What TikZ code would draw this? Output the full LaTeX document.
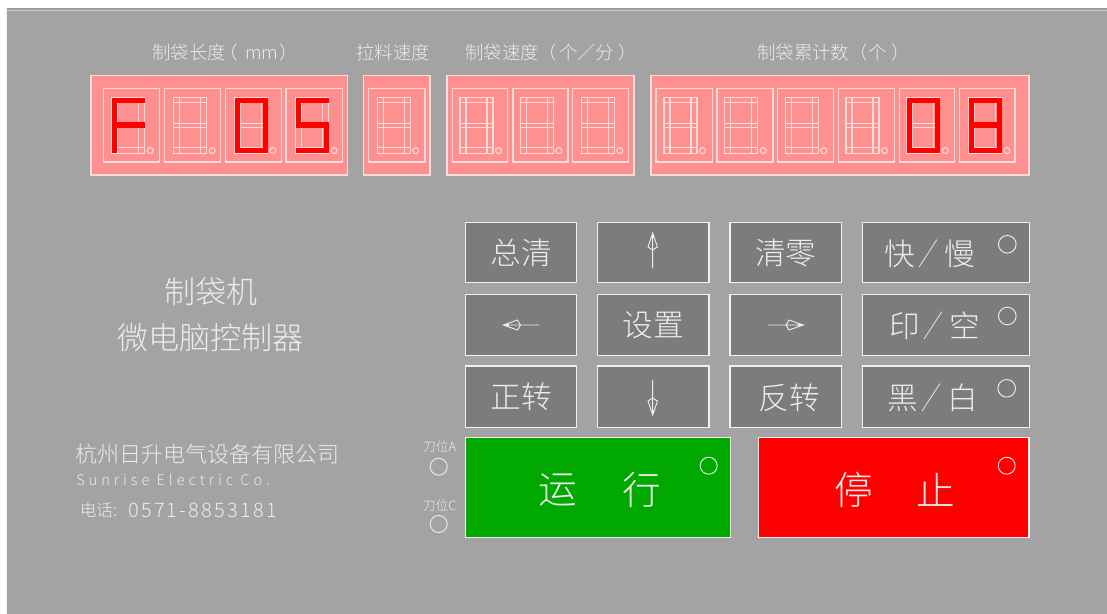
\documentclass[tikz,border=0pt]{standalone}
\usepackage{fontspec}
\setmainfont{Liberation Sans}
\newfontfamily\cjk{Noto Sans CJK SC Light}
\definecolor{panel}{HTML}{A3A3A3}
\definecolor{dispfill}{HTML}{FF9090}
\definecolor{displine}{HTML}{FFDADA}
\definecolor{btnfill}{HTML}{7C7C7C}
\definecolor{btnline}{HTML}{F0F0F0}
\definecolor{ink}{HTML}{ECECEC}
\definecolor{rungreen}{HTML}{00A800}
\definecolor{stopred}{HTML}{FF0000}
\newcommand{\tallslash}{\hspace{1.9pt}\scalebox{0.65}[1]{／}\hspace{4.9pt}}
\tikzset{
  dispbox/.style={draw=displine,fill=dispfill,line width=1pt},
  digline/.style={draw=displine,line width=0.8pt},
  segbar/.style={draw=stopred,line width=3.9pt},
  btnbox/.style={draw=btnline,fill=btnfill,line width=1.1pt},
  lamp/.style={draw=ink,line width=0.7pt},
  txt/.style={inner sep=0pt,text=ink,font=\cjk},
  btntxt/.style={txt,font=\cjk\fontsize{23}{25}\selectfont},
  captxt/.style={txt,anchor=west,font=\cjk\fontsize{13.8}{15}\selectfont},
  bigtxt/.style={txt,font=\cjk\fontsize{29}{31}\selectfont},
  titletxt/.style={txt,font=\cjk\fontsize{23.3}{25}\selectfont},
  segA/.style={insert path={(0.5,3)--(33,3)}},
  segG/.style={insert path={(0.5,27.7)--(33,27.7)}},
  segD/.style={insert path={(0.5,53.5)--(33,53.5)}},
  segF/.style={insert path={(3,0.5)--(3,30)}},
  segE/.style={insert path={(3,25.5)--(3,55.5)}},
  segB/.style={insert path={(31,0.5)--(31,30)}},
  segC/.style={insert path={(31,25.5)--(31,55.5)}},
}
% frame x, frame width, segment x, lit segments
\newcommand{\digitcell}[4]{%
  \draw[digline] (#1,88.7) rectangle ++(#2,73.3);
  \begin{scope}[shift={(#3,97.3)}]
    \draw[digline] (0,0) rectangle (33,56);
    \draw[digline] (6,0) -- (6,56) (27,0) -- (27,56);
    \draw[digline] (0,5.3) -- (33,5.3) (0,26) -- (33,26) (0,30.3) -- (33,30.3) (0,50) -- (33,50);
    \draw[digline] (38.5,53.3) circle (3);
    \foreach \s in {#4} {\path[segbar,seg\s];}
  \end{scope}}
\newcommand{\keybtn}[6]{%
  \draw[btnbox] (#2,#3) rectangle (#4,#5);
  \ifx&#6&\else\node[btntxt] (#1) at ({(#2+#4)/2},{(#3+#5)/2}) {#6};\fi}
\begin{document}
\begin{tikzpicture}[x=0.75pt,y=-0.75pt]
\useasboundingbox (0,0) rectangle (1107,614);
\fill[white] (0,0) rectangle (1107,614);
\fill[panel] (6,8) rectangle (1107,614);
\draw[color=black!42,line width=1.2pt] (6,8.6) -- (1107,8.6);
\draw[color=white!85!panel,line width=0.7pt] (6.8,8) -- (6.8,614);
\draw[color=white!40!panel,line width=0.7pt] (7,10.3) -- (1107,10.3);

% captions
\node[captxt] (capA) at (152,52.5) {制袋长度\hspace{-4.5pt}（\hspace{5.25pt}mm\hspace{0.75pt}）};
\node[captxt] (capB) at (356,52.5) {拉料速度};
\node[captxt] (capC) at (465,52.5) {制袋速度（\hspace{1.5pt}个／\hspace{-0.75pt}分\hspace{3.75pt}）};
\node[captxt] (capD) at (757,52.5) {制袋累计数（\hspace{0.75pt}个\hspace{3pt}）};

% displays
\draw[dispbox] (91,75.5) rectangle (347.5,175);
\draw[dispbox] (363.3,75.5) rectangle (430,175);
\draw[dispbox] (447,75.5) rectangle (634,175);
\draw[dispbox] (651,75.5) rectangle (1029,175);

\digitcell{103.7}{56}{111.7}{A,F,G,E}
\digitcell{164.3}{56.3}{173.7}{}
\digitcell{225.3}{56.3}{234.3}{A,B,C,D,E,F}
\digitcell{286}{56.3}{295.7}{A,F,G,C,D}
\digitcell{368.3}{56.7}{377.3}{}
\digitcell{452.3}{55}{460}{}
\digitcell{513}{55}{520.3}{}
\digitcell{572.7}{56}{581.3}{}
\digitcell{656}{56.3}{664}{}
\digitcell{717}{56}{724.7}{}
\digitcell{777.7}{56}{785.3}{}
\digitcell{838.3}{56}{846}{}
\digitcell{899.3}{55.5}{906.7}{A,B,C,D,E,F}
\digitcell{959.3}{55.7}{968.3}{A,B,C,D,E,F,G}

% key grid
\keybtn{kClear}{465.5}{222.3}{576.7}{282.7}{总清}
\keybtn{kUp}{597.7}{222.3}{709}{282.7}{}
\keybtn{kZero}{730}{222.3}{841.7}{282.7}{清零}
\keybtn{kSpeed}{862.7}{222.3}{1029.3}{282.7}{}
\keybtn{kLeft}{465.5}{294.3}{576.7}{355.3}{}
\keybtn{kSet}{597.7}{294.3}{709}{355.3}{设置}
\keybtn{kRight}{730}{294.3}{841.7}{355.3}{}
\keybtn{kPrint}{862.7}{294.3}{1029.3}{355.3}{}
\keybtn{kFwd}{465.5}{366}{576.7}{427.3}{正转}
\keybtn{kDown}{597.7}{366}{709}{427.3}{}
\keybtn{kRev}{730}{366}{841.7}{427.3}{}
\keybtn{kBW}{862.7}{366}{1029.3}{427.3}{}
\node[btntxt] (kRevT) at (789,398) {反转};
\node[btntxt] (kSpeedT) at (930,254) {快\tallslash 慢};
\node[btntxt] (kPrintT) at (935,326) {印\tallslash 空};
\node[btntxt] (kBWT) at (933,398) {黑\tallslash 白};

% arrows
\begin{scope}[draw=ink,line width=0.7pt]
\draw (652.7,268) -- (652.7,233) (652.7,233) -- (657.5,247) -- (652.7,250) -- (648,247) -- cycle;
\fill[ink] (652.7,233) -- (654,238) -- (651.4,238) -- cycle;
\draw (652.7,380) -- (652.7,415) (652.7,415) -- (657.5,401) -- (652.7,398) -- (648,401) -- cycle;
\fill[ink] (652.7,415) -- (654,410) -- (651.4,410) -- cycle;
\draw (539,325) -- (503.3,325) (503.3,325) -- (517.5,320) -- (520.5,325) -- (517.5,330) -- cycle;
\fill[ink] (503.3,325) -- (509,326.4) -- (509,323.6) -- cycle;
\draw (767.7,325) -- (803.3,325) (803.3,325) -- (789,320) -- (786,325) -- (789,330) -- cycle;
\fill[ink] (803.3,325) -- (797.6,326.4) -- (797.6,323.6) -- cycle;
\end{scope}

% lamps on keys
\draw[lamp] (1007.3,244.3) circle (8.8);
\draw[lamp] (1007.3,316) circle (8.8);
\draw[lamp] (1006.7,388.3) circle (8.8);

% run / stop
\draw[draw=btnline,fill=rungreen,line width=1pt] (465.5,437.3) rectangle (730.5,537.3);
\draw[draw=btnline,fill=stopred,line width=1pt] (758.3,437.3) rectangle (1029,537.3);
\node[bigtxt] (runA) at (558,490) {运};
\node[bigtxt] (runB) at (642,490) {行};
\node[bigtxt] (stopA) at (853.5,490) {停};
\node[bigtxt] (stopB) at (936,490) {止};
\draw[lamp] (708.7,465.7) circle (8.5);
\draw[lamp] (1006.7,465.7) circle (8.5);

% knife indicators
\node[txt,font=\cjk\fontsize{9.6}{10}\selectfont] (knifeA) at (439.7,446.7) {刀位A};
\draw[lamp] (438.7,466.7) circle (8.5);
\node[txt,font=\cjk\fontsize{9.6}{10}\selectfont] (knifeC) at (439.7,506) {刀位C};
\draw[lamp] (438.7,524) circle (8.5);

% titles
\node[titletxt] (titleA) at (211,292) {制袋机};
\node[titletxt] (titleB) at (210.5,338) {微电脑控制器};

% company
\node[txt,anchor=west,font=\cjk\fontsize{16.5}{18}\selectfont] (coCN) at (75.5,454) {杭州日升电气设备有限公司};
\node[txt,anchor=west,font=\cjk\fontsize{11}{14}\addfontfeature{LetterSpace=27}\selectfont] (coEN) at (76,480) {Sunrise Electric Co.};
\node[txt,anchor=west,font=\cjk\fontsize{12.5}{14}\selectfont] (telL) at (79.5,510) {电话:};
\node[txt,anchor=west,font=\cjk\fontsize{15}{17}\addfontfeature{LetterSpace=11}\selectfont] (telN) at (128,510) {0571-8853181};
\end{tikzpicture}
\end{document}
